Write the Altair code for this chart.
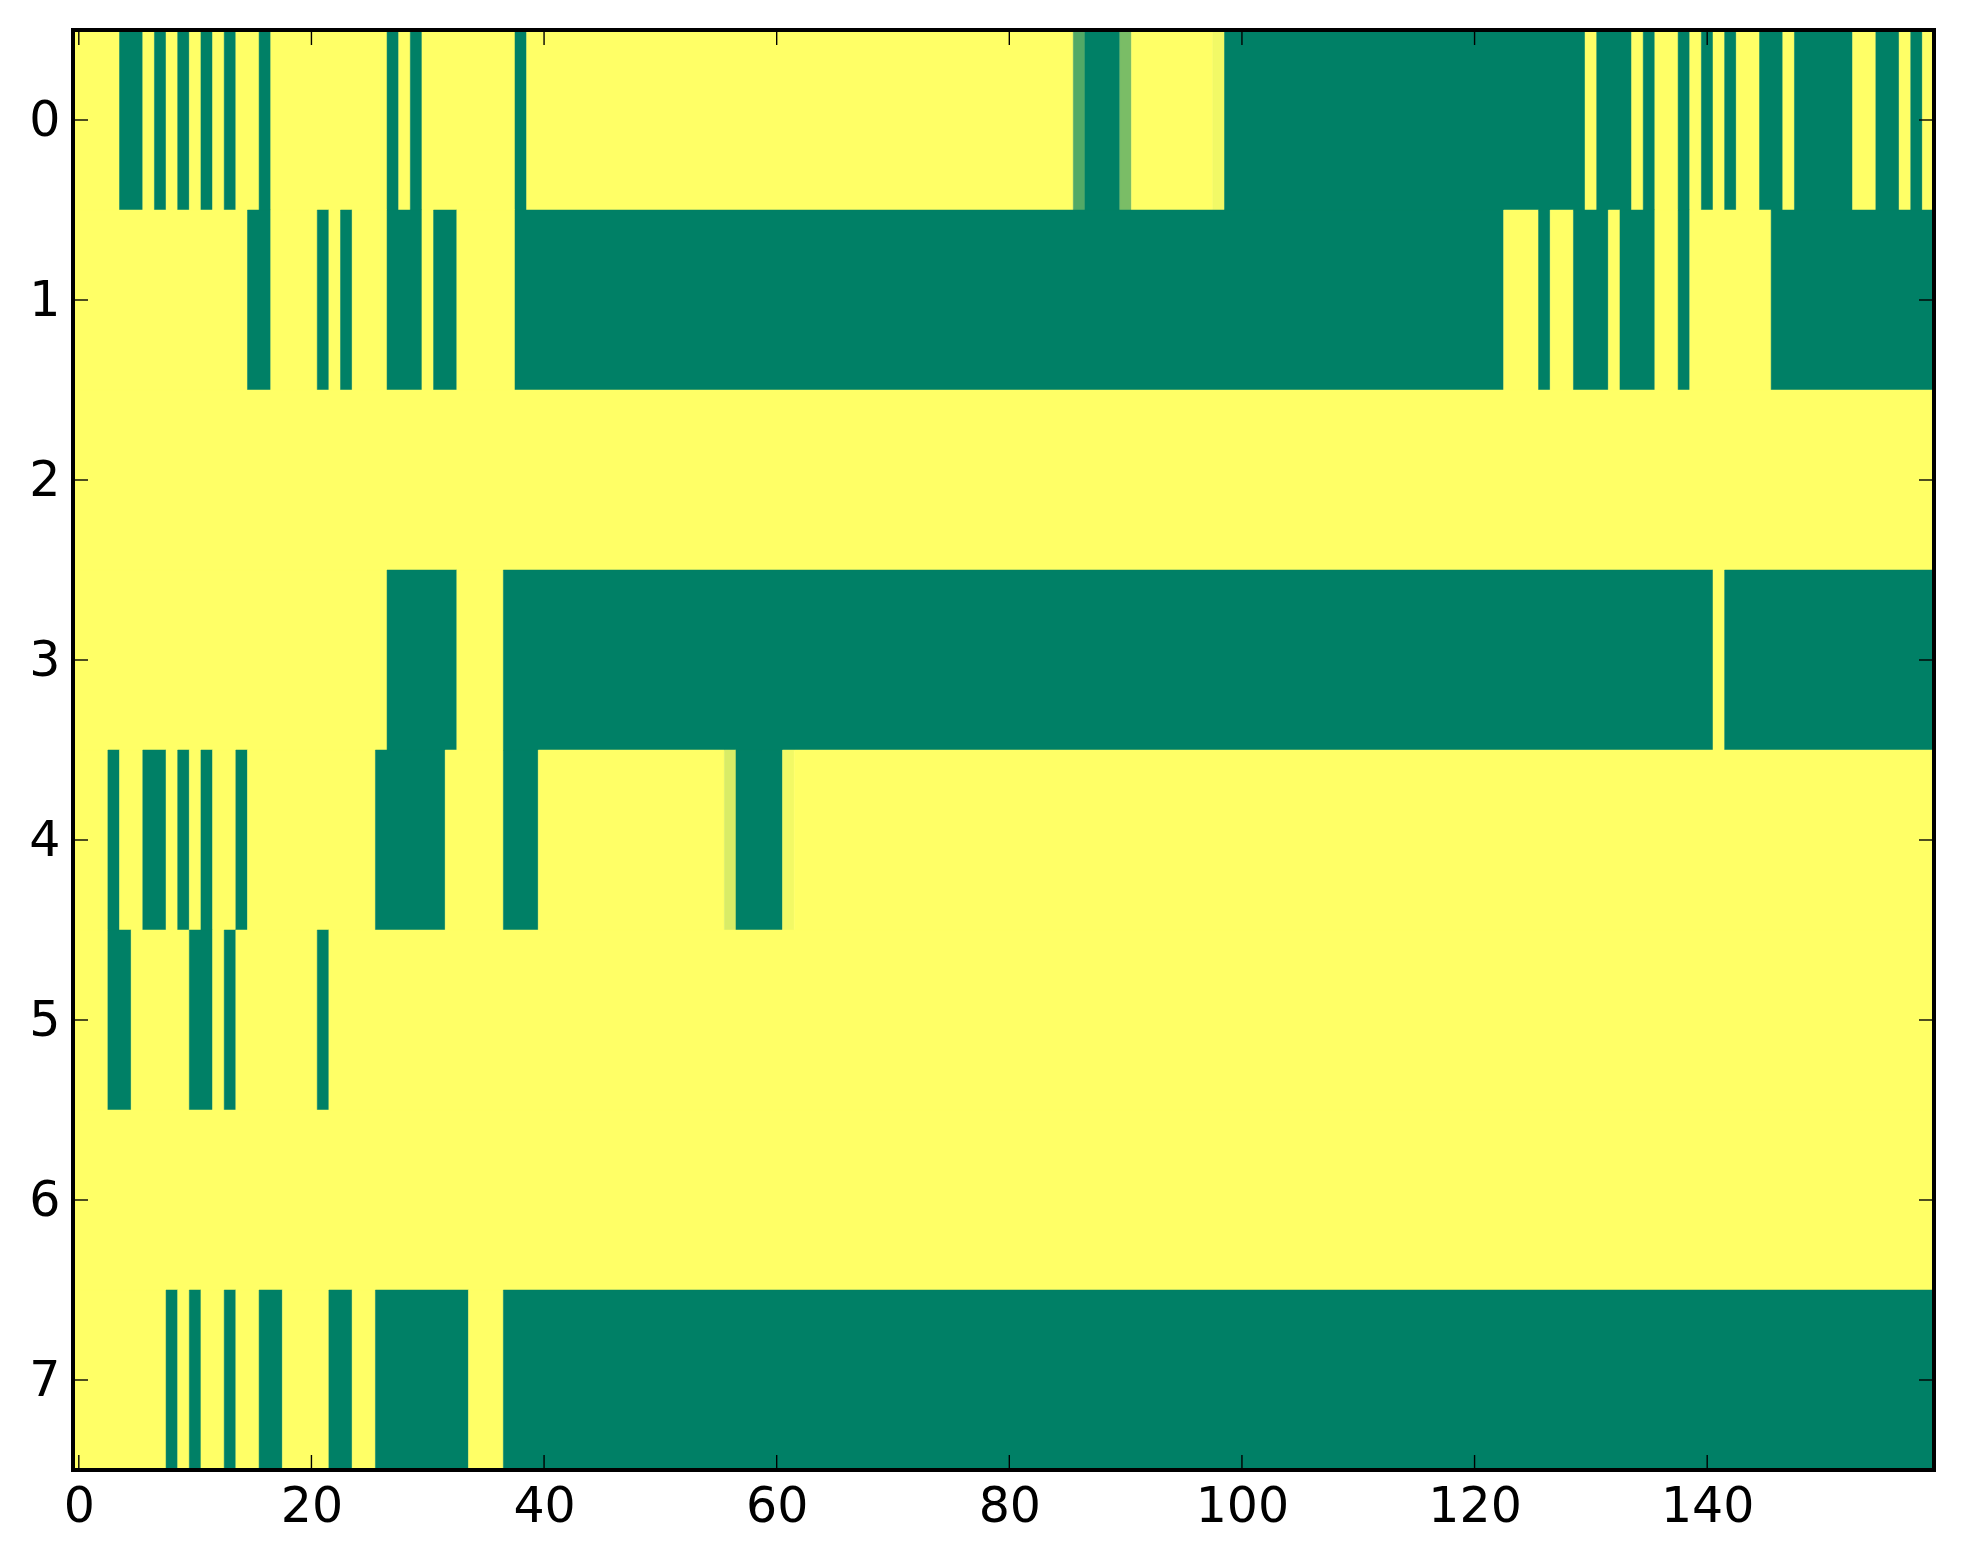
import altair as alt
import pandas as pd

# values: 0 = dark green, 1 = yellow (matplotlib "summer")
row0 = [1,1,1,1,0,0,1,0,1,0, 1,0,1,0,1,1,0,1,1,1, 1,1,1,1,1,1,1,0,1,0, 1,1,1,1,1,1,1,1,0,1,
        1,1,1,1,1,1,1,1,1,1, 1,1,1,1,1,1,1,1,1,1, 1,1,1,1,1,1,1,1,1,1, 1,1,1,1,1,1,1,1,1,1,
        1,1,1,1,1,1,0.32,0,0,0, 0.48,1,1,1,1,1,1,1,0.95,0, 0,0,0,0,0,0,0,0,0,0, 0,0,0,0,0,0,0,0,0,0,
        0,0,0,0,0,0,0,0,0,0, 1,0,0,0,1,0,1,1,0,1, 0,1,0,1,1,0,0,1,0,0, 0,0,0,1,1,0,0,1,0,1]
row1 = [1,1,1,1,1,1,1,1,1,1, 1,1,1,1,1,0,0,1,1,1, 1,0,1,0,1,1,1,0,0,0, 1,0,0,1,1,1,1,1,0,0,
        0,0,0,0,0,0,0,0,0,0, 0,0,0,0,0,0,0,0,0,0, 0,0,0,0,0,0,0,0,0,0, 0,0,0,0,0,0,0,0,0,0,
        0,0,0,0,0,0,0,0,0,0, 0,0,0,0,0,0,0,0,0,0, 0,0,0,0,0,0,0,0,0,0, 0,0,0,0,0,0,0,0,0,0,
        0,0,0,1,1,1,0,1,1,0, 0,0,1,0,0,0,1,1,0,1, 1,1,1,1,1,1,0,0,0,0, 0,0,0,0,0,0,0,0,0,0]
row2 = [1,1,1,1,1,1,1,1,1,1, 1,1,1,1,1,1,1,1,1,1, 1,1,1,1,1,1,1,1,1,1, 1,1,1,1,1,1,1,1,1,1,
        1,1,1,1,1,1,1,1,1,1, 1,1,1,1,1,1,1,1,1,1, 1,1,1,1,1,1,1,1,1,1, 1,1,1,1,1,1,1,1,1,1,
        1,1,1,1,1,1,1,1,1,1, 1,1,1,1,1,1,1,1,1,1, 1,1,1,1,1,1,1,1,1,1, 1,1,1,1,1,1,1,1,1,1,
        1,1,1,1,1,1,1,1,1,1, 1,1,1,1,1,1,1,1,1,1, 1,1,1,1,1,1,1,1,1,1, 1,1,1,1,1,1,1,1,1,1]
row3 = [1,1,1,1,1,1,1,1,1,1, 1,1,1,1,1,1,1,1,1,1, 1,1,1,1,1,1,1,0,0,0, 0,0,0,1,1,1,1,0,0,0,
        0,0,0,0,0,0,0,0,0,0, 0,0,0,0,0,0,0,0,0,0, 0,0,0,0,0,0,0,0,0,0, 0,0,0,0,0,0,0,0,0,0,
        0,0,0,0,0,0,0,0,0,0, 0,0,0,0,0,0,0,0,0,0, 0,0,0,0,0,0,0,0,0,0, 0,0,0,0,0,0,0,0,0,0,
        0,0,0,0,0,0,0,0,0,0, 0,0,0,0,0,0,0,0,0,0, 0,1,0,0,0,0,0,0,0,0, 0,0,0,0,0,0,0,0,0,0]
row4 = [1,1,1,0,1,1,0,0,1,0, 1,0,1,1,0,1,1,1,1,1, 1,1,1,1,1,1,0,0,0,0, 0,0,1,1,1,1,1,0,0,0,
        1,1,1,1,1,1,1,1,1,1, 1,1,1,1,1,1,0.85,0,0,0, 0,0.95,1,1,1,1,1,1,1,1, 1,1,1,1,1,1,1,1,1,1,
        1,1,1,1,1,1,1,1,1,1, 1,1,1,1,1,1,1,1,1,1, 1,1,1,1,1,1,1,1,1,1, 1,1,1,1,1,1,1,1,1,1,
        1,1,1,1,1,1,1,1,1,1, 1,1,1,1,1,1,1,1,1,1, 1,1,1,1,1,1,1,1,1,1, 1,1,1,1,1,1,1,1,1,1]
row5 = [1,1,1,0,0,1,1,1,1,1, 0,0,1,0,1,1,1,1,1,1, 1,0,1,1,1,1,1,1,1,1, 1,1,1,1,1,1,1,1,1,1,
        1,1,1,1,1,1,1,1,1,1, 1,1,1,1,1,1,1,1,1,1, 1,1,1,1,1,1,1,1,1,1, 1,1,1,1,1,1,1,1,1,1,
        1,1,1,1,1,1,1,1,1,1, 1,1,1,1,1,1,1,1,1,1, 1,1,1,1,1,1,1,1,1,1, 1,1,1,1,1,1,1,1,1,1,
        1,1,1,1,1,1,1,1,1,1, 1,1,1,1,1,1,1,1,1,1, 1,1,1,1,1,1,1,1,1,1, 1,1,1,1,1,1,1,1,1,1]
row6 = [1,1,1,1,1,1,1,1,1,1, 1,1,1,1,1,1,1,1,1,1, 1,1,1,1,1,1,1,1,1,1, 1,1,1,1,1,1,1,1,1,1,
        1,1,1,1,1,1,1,1,1,1, 1,1,1,1,1,1,1,1,1,1, 1,1,1,1,1,1,1,1,1,1, 1,1,1,1,1,1,1,1,1,1,
        1,1,1,1,1,1,1,1,1,1, 1,1,1,1,1,1,1,1,1,1, 1,1,1,1,1,1,1,1,1,1, 1,1,1,1,1,1,1,1,1,1,
        1,1,1,1,1,1,1,1,1,1, 1,1,1,1,1,1,1,1,1,1, 1,1,1,1,1,1,1,1,1,1, 1,1,1,1,1,1,1,1,1,1]
row7 = [1,1,1,1,1,1,1,1,0,1, 0,1,1,0,1,1,0,0,1,1, 1,1,0,0,1,1,0,0,0,0, 0,0,0,0,1,1,1,0,0,0,
        0,0,0,0,0,0,0,0,0,0, 0,0,0,0,0,0,0,0,0,0, 0,0,0,0,0,0,0,0,0,0, 0,0,0,0,0,0,0,0,0,0,
        0,0,0,0,0,0,0,0,0,0, 0,0,0,0,0,0,0,0,0,0, 0,0,0,0,0,0,0,0,0,0, 0,0,0,0,0,0,0,0,0,0,
        0,0,0,0,0,0,0,0,0,0, 0,0,0,0,0,0,0,0,0,0, 0,0,0,0,0,0,0,0,0,0, 0,0,0,0,0,0,0,0,0,0]

rows = [row0, row1, row2, row3, row4, row5, row6, row7]
x_ticks = [0, 20, 40, 60, 80, 100, 120, 140]
y_ticks = [0, 1, 2, 3, 4, 5, 6, 7]
n_cols = 160
n_rows = 8

# merge runs of equal neighbouring cells in a row into one rectangle (same picture, no seams)
records = []
for r, vals in enumerate(rows):
    assert len(vals) == n_cols
    start = 0
    for c in range(1, n_cols + 1):
        if c == n_cols or vals[c] != vals[start]:
            records.append({"row": r, "c0": start, "c1": c - 1, "v": vals[start]})
            start = c
df = pd.DataFrame(records)

W, H = 1861, 1440
FONT = "DejaVu Sans"
FS = 49
TICK = 15

xscale = alt.Scale(domain=[-0.5, n_cols - 0.5], nice=False, zero=False)
yscale = alt.Scale(domain=[-0.5, n_rows - 0.5], nice=False, zero=False, reverse=True)
cscale = alt.Scale(domain=[0, 1], range=["#008066", "#ffff66"], interpolate="rgb")

x_axis = alt.Axis(values=x_ticks, title=None, ticks=False, domain=False, grid=False,
                  labelFont=FONT, labelFontSize=FS, labelColor="black",
                  labelPadding=12, labelFlush=False, format="d")
y_axis = alt.Axis(values=y_ticks, title=None, ticks=False, domain=False, grid=False,
                  labelFont=FONT, labelFontSize=FS, labelColor="black",
                  labelPadding=13, labelFlush=False, format="d",
                  minExtent=65, maxExtent=65)

cells = alt.Chart(df).transform_calculate(
    x0="datum.c0 - 0.5", x1="datum.c1 + 0.5",
    y0="datum.row - 0.5", y1="datum.row + 0.5",
).mark_rect(strokeWidth=0.5).encode(
    x=alt.X("x0:Q", scale=xscale, axis=x_axis),
    x2="x1:Q",
    y=alt.Y("y0:Q", scale=yscale, axis=y_axis),
    y2="y1:Q",
    color=alt.Color("v:Q", scale=cscale, legend=None),
    stroke=alt.Stroke("v:Q", scale=cscale, legend=None),
)

xt = pd.DataFrame({"t": x_ticks})
yt = pd.DataFrame({"t": y_ticks})

xtick_bottom = alt.Chart(xt).mark_rule(color="black", strokeWidth=1.4).encode(
    x=alt.X("t:Q", scale=xscale, axis=x_axis), y=alt.value(H), y2=alt.value(H - TICK))
xtick_top = alt.Chart(xt).mark_rule(color="black", strokeWidth=1.4).encode(
    x=alt.X("t:Q", scale=xscale, axis=x_axis), y=alt.value(0), y2=alt.value(TICK))
ytick_left = alt.Chart(yt).mark_rule(color="black", strokeWidth=1.4).encode(
    y=alt.Y("t:Q", scale=yscale, axis=y_axis), x=alt.value(0), x2=alt.value(TICK))
ytick_right = alt.Chart(yt).mark_rule(color="black", strokeWidth=1.4).encode(
    y=alt.Y("t:Q", scale=yscale, axis=y_axis), x=alt.value(W), x2=alt.value(W - TICK))

frame = alt.Chart(xt).mark_rect(fill=None, stroke="black", strokeWidth=3.5).encode(
    x=alt.value(0), x2=alt.value(W), y=alt.value(0), y2=alt.value(H))

chart = alt.layer(cells, xtick_bottom, xtick_top, ytick_left, ytick_right, frame).properties(
    width=W, height=H,
    padding={"left": 0, "top": 20, "right": 10, "bottom": 5},
).configure_view(stroke=None).configure(background="white")

chart.save("out.html", embed_options={"renderer": "svg", "actions": False})
